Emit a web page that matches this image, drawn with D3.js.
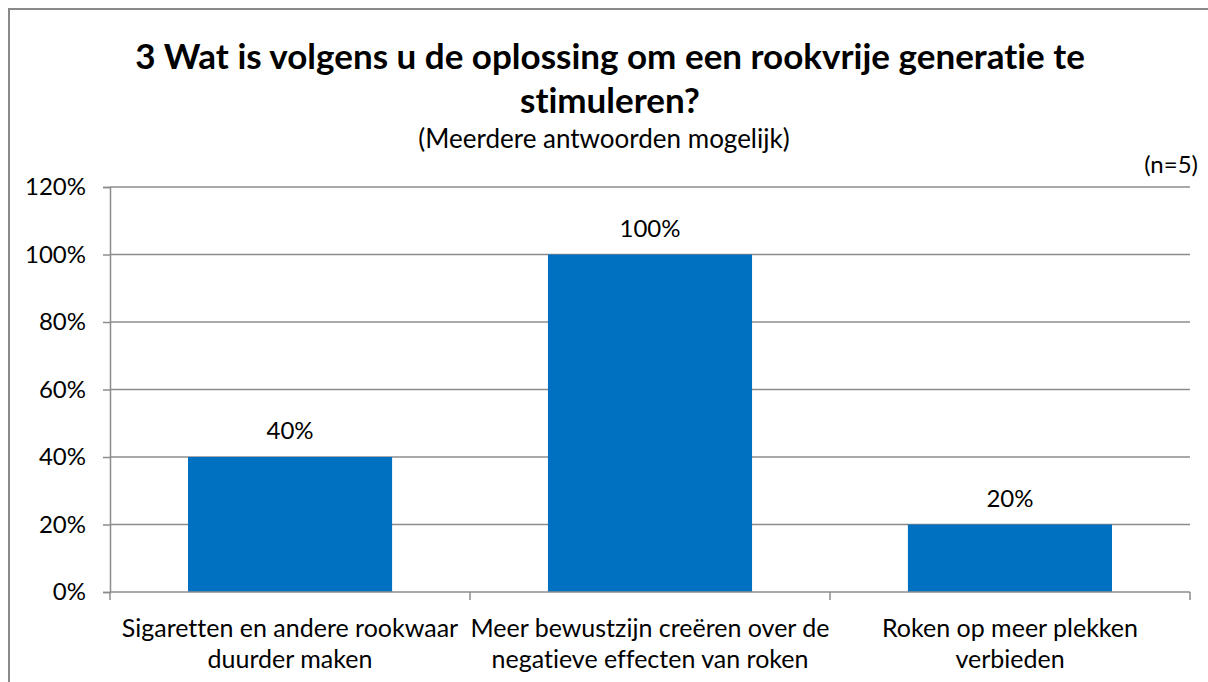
<!DOCTYPE html>
<html lang="nl">
<head>
<meta charset="utf-8">
<title>Rookvrije generatie</title>
<script src="https://d3js.org/d3.v7.min.js"></script>
<style>
  html, body { margin: 0; padding: 0; background: #fff; }
  svg { display: block; font-family: Lato, "Open Sans", sans-serif; font-variant-ligatures: none; }
  svg text { font-feature-settings: "liga" 0; }
</style>
</head>
<body>
<svg id="chart" width="1208" height="682"></svg>
<script>
// gegevens
var categories = [
  ["Sigaretten en andere rookwaar", "duurder maken"],
  ["Meer bewustzijn creëren over de", "negatieve effecten van roken"],
  ["Roken op meer plekken", "verbieden"]
];
var values = [0.4, 1.0, 0.2];
var yTicks = [0, 0.2, 0.4, 0.6, 0.8, 1.0, 1.2];
var titleLines = ["3 Wat is volgens u de oplossing om een rookvrije generatie te", "stimuleren?"];
var subtitle = "(Meerdere antwoorden mogelijk)";
var nLabel = "(n=5)";

var svg = d3.select("#chart");
// plotgebied
var pLeft = 110, pRight = 1190, pTop = 187, pBottom = 592;
var grey = "#8c8c8c";

// kader
svg.append("rect").attr("x", 9).attr("y", 9).attr("width", 1220).attr("height", 700)
  .attr("fill", "none").attr("stroke", "#898989").attr("stroke-width", 2);

// titel
svg.append("g").selectAll("text").data(titleLines).enter().append("text")
  .attr("x", 610).attr("y", function(d, i){ return 69 + i * 44; })
  .attr("text-anchor", "middle").style("font-size", "35px").style("font-weight", "bold")
  .text(function(d){ return d; });
svg.append("text").attr("x", 604).attr("y", 148).attr("text-anchor", "middle")
  .style("font-size", "26px").text(subtitle);
svg.append("text").attr("x", 1198).attr("y", 173).attr("text-anchor", "end")
  .style("font-size", "24px").text(nLabel);

var x = d3.scaleBand().domain(d3.range(categories.length)).range([pLeft, pRight])
  .paddingInner(0.433).paddingOuter(0.2167);
var xCat = d3.scaleBand().domain(d3.range(categories.length)).range([pLeft, pRight]);
var y = d3.scaleLinear().domain([0, 1.2]).range([pBottom, pTop]);

// rasterlijnen
svg.append("g").selectAll("line").data(yTicks.slice(1)).enter().append("line")
  .attr("x1", pLeft).attr("x2", pRight)
  .attr("y1", function(d){ return y(d); }).attr("y2", function(d){ return y(d); })
  .attr("stroke", grey).attr("stroke-width", 1.5);

// y-as
var yAxis = svg.append("g").attr("transform", "translate(" + pLeft + ",0)")
  .call(d3.axisLeft(y).tickValues(yTicks).tickFormat(d3.format(".0%")).tickSize(7).tickPadding(17));
yAxis.select(".domain").attr("stroke", grey).attr("stroke-width", 1.5);
yAxis.selectAll(".tick line").attr("stroke", grey).attr("stroke-width", 1.5);
yAxis.selectAll("text").style("font-size", "24px").style("font-family", "Lato, sans-serif").attr("fill", "#000");

// staven
svg.append("g").selectAll("rect").data(values).enter().append("rect")
  .attr("x", function(d, i){ return x(i); })
  .attr("width", x.bandwidth())
  .attr("y", function(d){ return y(d); })
  .attr("height", function(d){ return y(0) - y(d); })
  .attr("fill", "#0070c0");

// waardelabels
svg.append("g").selectAll("text").data(values).enter().append("text")
  .attr("x", function(d, i){ return x(i) + x.bandwidth() / 2; })
  .attr("y", function(d){ return y(d) - 18; })
  .attr("text-anchor", "middle").style("font-size", "24px")
  .text(function(d){ return d3.format(".0%")(d); });

// x-as
svg.append("line").attr("x1", pLeft).attr("x2", pRight).attr("y1", pBottom).attr("y2", pBottom)
  .attr("stroke", grey).attr("stroke-width", 1.5);
svg.append("g").selectAll("line").data(d3.range(categories.length + 1)).enter().append("line")
  .attr("x1", function(d){ return pLeft + d * xCat.step(); })
  .attr("x2", function(d){ return pLeft + d * xCat.step(); })
  .attr("y1", pBottom).attr("y2", pBottom + 8)
  .attr("stroke", grey).attr("stroke-width", 1.5);

var catLabels = svg.append("g").selectAll("text").data(categories).enter().append("text")
  .attr("text-anchor", "middle").style("font-size", "25px");
catLabels.selectAll("tspan").data(function(d, i){ return d.map(function(t){ return {t: t, i: i}; }); })
  .enter().append("tspan")
  .attr("x", function(d){ return xCat(d.i) + xCat.bandwidth() / 2; })
  .attr("y", function(d, j){ return 637 + j * 31; })
  .text(function(d){ return d.t; });
</script>
</body>
</html>
